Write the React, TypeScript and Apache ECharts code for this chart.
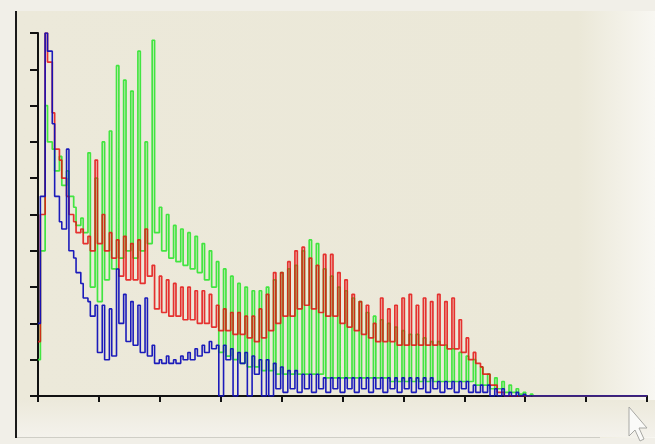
import React, { useEffect, useRef } from "react";
import * as echarts from "echarts";

// Histogram teeth: each tooth covers 3 bins (peak bin, then 2 trough bins)
const redPeaks = [15, 100, 78, 65, 55, 48, 46, 44, 65, 50, 45, 43, 44, 42, 43, 46, 36, 33, 32, 31, 30, 30, 29, 29, 28, 25, 24, 23, 23, 22, 22, 24, 28, 34, 34, 37, 40, 41, 38, 36, 39, 39, 34, 32, 28, 26, 25, 20, 27, 24, 25, 27, 28, 25, 27, 26, 28, 26, 27, 21, 16, 12, 8, 6, 3, 1, 0];
const redTroughs = [50, 92, 68, 60, 50, 45, 42, 40, 42, 40, 38, 33, 32, 32, 31, 33, 24, 23, 22, 22, 21, 21, 20, 20, 19, 18, 18, 17, 17, 16, 15, 16, 18, 20, 22, 22, 24, 25, 24, 23, 22, 22, 20, 19, 18, 17, 16, 15, 15, 15, 14, 14, 14, 14, 14, 14, 14, 13, 13, 12, 10, 9, 6, 3, 1, 0, 0];

const greenPeaks = [10, 80, 68, 66, 62, 52, 49, 67, 60, 70, 73, 91, 87, 84, 95, 70, 98, 52, 50, 47, 46, 45, 44, 42, 40, 37, 35, 33, 31, 30, 29, 29, 30, 32, 34, 35, 36, 40, 43, 42, 35, 33, 30, 29, 27, 26, 23, 22, 21, 20, 19, 18, 17, 17, 16, 15, 15, 14, 13, 12, 11, 10, 8, 6, 5, 4, 3, 2, 1, 0.5, 0];
const greenTroughs = [40, 70, 62, 58, 55, 47, 45, 30, 26, 32, 35, 38, 40, 38, 40, 42, 45, 40, 38, 37, 36, 35, 34, 32, 30, 12, 11, 10, 9, 8, 8, 7, 7, 6, 6, 6, 6, 6, 6, 6, 5, 5, 5, 5, 5, 5, 5, 5, 5, 4, 4, 4, 4, 4, 4, 4, 4, 4, 4, 4, 4, 3, 3, 2, 2, 1, 1, 0.5, 0, 0, 0];

const bluePeaks = [20, 100, 75, 48, 68, 38, 31, 26, 25, 25, 24, 35, 28, 26, 25, 27, 14, 10, 11, 10, 11, 12, 13, 14, 15, 14, 14, 13, 12, 12, 11, 10, 10, 9, 8, 7, 7, 6, 6, 6, 5, 5, 5, 5, 5, 5, 5, 5, 5, 5, 5, 5, 5, 5, 5, 5, 4, 4, 4, 4, 4, 3, 3, 3, 2, 2, 1, 1, 0.5, 0];
const blueTroughs = [55, 95, 55, 46, 40, 34, 27, 22, 12, 10, 11, 20, 15, 14, 12, 11, 9, 9, 9, 9, 10, 10, 11, 12, 13, 0, 10, 0, 9, 0, 6, 0, 0, 2, 1, 2, 1, 2, 1, 2, 1, 2, 1, 2, 1, 2, 1, 2, 1, 2, 1, 2, 1, 2, 1, 2, 1, 2, 1, 2, 1, 1, 1, 0, 0, 0, 0, 0, 0, 0];

const BIN_COUNT = 256;
const xTicks = [0, 25.6, 51.2, 76.8, 102.4, 128, 153.6, 179.2, 204.8, 230.4, 256];
const yTicks = [0, 10, 20, 30, 40, 50, 60, 70, 80, 90, 100];

function buildBins(peaks: number[], troughs: number[]): number[][] {
  const bins: number[] = [];
  for (let k = 0; k < peaks.length; k++) {
    bins.push(peaks[k], troughs[k], troughs[k]);
  }
  while (bins.length < BIN_COUNT) bins.push(0);
  const data = bins.slice(0, BIN_COUNT).map((v, i) => [i, v]);
  data.push([BIN_COUNT, 0]);
  return data;
}

export default function App() {
  const ref = useRef<HTMLDivElement>(null);
  useEffect(() => {
    document.body.style.margin = "0";
    if (!ref.current) return;
    const chart = echarts.init(ref.current, null, { renderer: "svg" });
    const mkSeries = (name: string, data: number[][], color: string, opacity: number, width: number) => ({
      name,
      type: "line",
      data,
      step: "end",
      symbol: "none",
      lineStyle: { color, width, opacity },
      z: 3,
    });
    chart.setOption({
      animation: false,
      backgroundColor: "#F1EFE8",
      graphic: [
        {
          type: "rect",
          z: -10,
          shape: { x: 16, y: 11, width: 639, height: 427 },
          style: {
            fill: new echarts.graphic.LinearGradient(0, 0, 1, 0, [
              { offset: 0, color: "#ECE9DA" },
              { offset: 0.88, color: "#EBE8D8" },
              { offset: 1, color: "#F8F7F2" },
            ]),
          },
        },
        {
          type: "rect",
          z: -9,
          shape: { x: 17, y: 400, width: 638, height: 37 },
          style: {
            fill: new echarts.graphic.LinearGradient(0, 0, 0, 1, [
              { offset: 0, color: "#ECE9DB" },
              { offset: 1, color: "#F4F2EC" },
            ]),
          },
        },
        {
          type: "line",
          z: -8,
          shape: { x1: 16, y1: 11, x2: 655, y2: 11 },
          style: {
            lineWidth: 2,
            stroke: new echarts.graphic.LinearGradient(0, 0, 1, 0, [
              { offset: 0, color: "#1a1a1a" },
              { offset: 0.85, color: "#1a1a1a" },
              { offset: 1, color: "rgba(120,120,120,0.2)" },
            ]),
          },
        },
        {
          type: "line",
          z: -8,
          shape: { x1: 16, y1: 11, x2: 16, y2: 438 },
          style: { lineWidth: 2, stroke: "#1a1a1a" },
        },
        {
          type: "line",
          z: -8,
          shape: { x1: 17, y1: 437.5, x2: 600, y2: 437.5 },
          style: { lineWidth: 1, stroke: "#CFCEC6" },
        },
        {
          type: "polygon",
          z: 10,
          shape: {
            points: [
              [629, 407],
              [629, 436],
              [635, 430],
              [640, 441],
              [644, 439],
              [639, 428],
              [647, 428],
            ],
          },
          style: { fill: "#FAFAF8", stroke: "#A8A8A4", lineWidth: 1 },
        },
      ],
      grid: { left: 38, top: 33, width: 609, height: 363, containLabel: false },
      xAxis: {
        type: "value",
        min: xTicks[0],
        max: xTicks[xTicks.length - 1],
        interval: xTicks[1] - xTicks[0],
        axisLine: { show: true, onZero: false, lineStyle: { color: "#111", width: 2 } },
        axisTick: { show: true, inside: false, length: 6, lineStyle: { color: "#111", width: 2 } },
        axisLabel: { show: false },
        splitLine: { show: false },
      },
      yAxis: {
        type: "value",
        min: yTicks[0],
        max: yTicks[yTicks.length - 1],
        interval: yTicks[1] - yTicks[0],
        axisLine: { show: true, lineStyle: { color: "#111", width: 2 } },
        axisTick: { show: true, inside: false, length: 8, lineStyle: { color: "#111", width: 2 } },
        axisLabel: { show: false },
        splitLine: { show: false },
      },
      series: [
        mkSeries("Green", buildBins(greenPeaks, greenTroughs), "#30E430", 0.9, 1.7),
        mkSeries("Red", buildBins(redPeaks, redTroughs), "#E41010", 0.85, 1.7),
        mkSeries("Blue", buildBins(bluePeaks, blueTroughs), "#1010B8", 0.95, 1.6),
      ],
    });
    return () => chart.dispose();
  }, []);
  return (
    <div
      ref={ref}
      style={{ position: "fixed", left: 0, top: 0, width: 655, height: 444 }}
    />
  );
}
